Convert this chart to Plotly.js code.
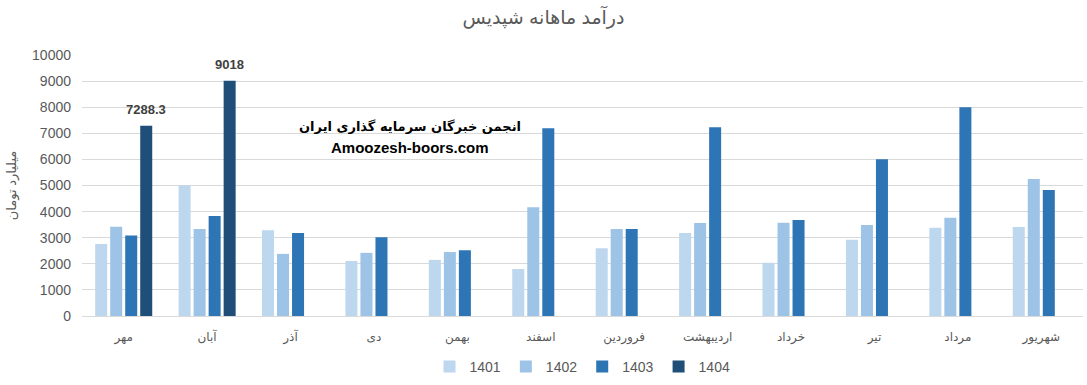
<!DOCTYPE html>
<html>
<head>
<meta charset="utf-8">
<script src="https://cdn.plot.ly/plotly-3.0.1.min.js"></script>
<style>html,body{margin:0;padding:0;background:#fff;}#chart{width:1087px;height:385px;}</style>
</head>
<body>
<div id="chart"></div>
<script>
const months = ["مهر","آبان","آذر","دی","بهمن","اسفند","فروردین","اردیبهشت","خرداد","تیر","مرداد","شهریور"];
const seriesNames = ["1401","1402","1403","1404"];
const v1401 = [2760,5000,3290,2110,2150,1800,2600,3180,2040,2920,3380,3410];
const v1402 = [3420,3330,2380,2420,2450,4170,3330,3560,3570,3490,3760,5250];
const v1403 = [3080,3830,3180,3020,2520,7190,3330,7230,3680,6010,8000,4830];
const v1404 = [7288.3,9018,null,null,null,null,null,null,null,null,null,null];
const labels1404 = ["7288.3","9018"];
const colors = ["#BDD7EE","#9DC3E6","#2E75B6","#1F4E79"];
const yTicks = [0,1000,2000,3000,4000,5000,6000,7000,8000,9000,10000];

const font = "Liberation Sans, DejaVu Sans, sans-serif";
const all = [v1401,v1402,v1403,v1404];
const traces = all.map((vals,i)=>({
  type:"bar", x:months, y:vals, name:seriesNames[i],
  marker:{color:colors[i]}, hoverinfo:"none"
}));

const annotations = [];
labels1404.forEach((t,i)=>{
  annotations.push({x:months[i], y:v1404[i], xref:"x", yref:"y", text:"<b>"+t+"</b>",
    showarrow:false, yanchor:"bottom", yshift:7, xshift:22,
    font:{family:font,size:13,color:"#404040"}});
});
annotations.push({xref:"paper",yref:"paper",x:0.328,y:0.725,xanchor:"center",yanchor:"middle",
  text:"<b>انجمن خبرگان سرمایه گذاری ایران</b>",
  showarrow:false,font:{family:"DejaVu Sans, sans-serif",size:13,color:"#000"}});
annotations.push({xref:"paper",yref:"paper",x:0.328,y:0.645,xanchor:"center",yanchor:"middle",
  text:"<b>Amoozesh-boors.com</b>",
  showarrow:false,font:{family:font,size:15,color:"#000"}});

const layout = {
  width:1087, height:385,
  margin:{l:82,r:4,t:55,b:68},
  paper_bgcolor:"#fff", plot_bgcolor:"#fff",
  title:{text:"درآمد ماهانه شپدیس", x:0.5, xanchor:"center", y:0.955, yanchor:"middle",
    font:{family:font,size:19,color:"#595959"}},
  barmode:"group", bargap:0.28, bargroupgap:0.2,
  xaxis:{type:"category", tickfont:{family:font,size:12,color:"#595959"}, showgrid:false,
    showline:true, linecolor:"#D9D9D9", ticks:"", fixedrange:true, ticklabelstandoff:10},
  yaxis:{range:[0,10000], tickvals:yTicks, ticktext:yTicks.map(String), showgrid:true, gridcolor:"#D9D9D9",
    zeroline:false, tickfont:{family:font,size:14,color:"#595959"}, ticks:"", ticklen:0,
    ticklabelstandoff:10,
    title:{text:"میلیارد تومان", font:{family:font,size:13,color:"#595959"}, standoff:12}},
  showlegend:true,
  legend:{orientation:"h", x:0.5, xanchor:"center", y:-0.19, yanchor:"middle",
    font:{family:font,size:14,color:"#595959"}, traceorder:"normal", itemwidth:30},
  annotations:annotations
};
Plotly.newPlot("chart", traces, layout, {displayModeBar:false, staticPlot:true});
</script>
</body>
</html>
